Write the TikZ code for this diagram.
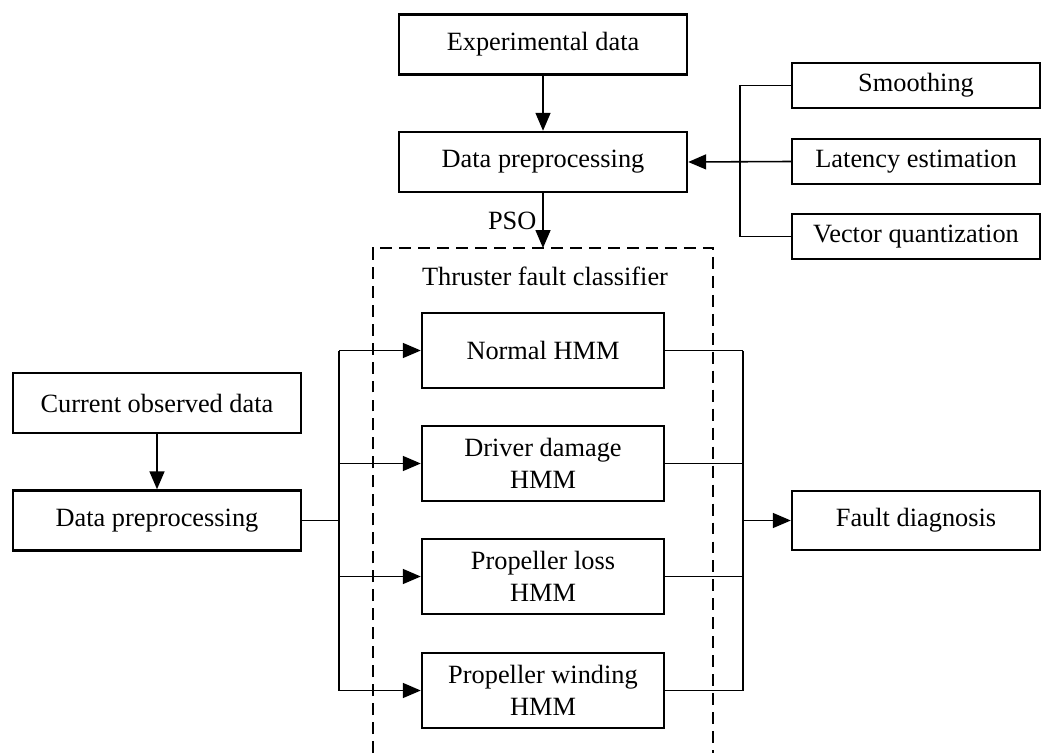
\documentclass[tikz,border=0pt]{standalone}
\usepackage{fontspec}
\setmainfont{Liberation Serif}
\usetikzlibrary{arrows.meta}

\begin{document}
\begin{tikzpicture}[x=0.02cm, y=-0.02cm,
    font=\fontsize{15}{18}\selectfont,
    box/.style = {draw, line width=1.4pt, align=center, inner sep=2pt},
    wide/.style = {box, minimum width=5.76cm, minimum height=1.2cm},
    side/.style = {box, minimum width=4.96cm, minimum height=0.9cm},
    hmm/.style = {box, minimum width=4.84cm, minimum height=1.5cm},
    link/.style = {line width=0.9pt},
    arr/.style = {link, -{Triangle[length=0.36cm, width=0.3cm]}}]
			\useasboundingbox (0,0) rectangle (1043,753);
			\node (exp) at (543,44.5) [wide] {Experimental data};
			\node (pre1) at (543,162) [wide] {Data preprocessing};
			\node (smooth) at (916,85.5) [side] {Smoothing};
			\node (lat) at (916,161.5) [side] {Latency estimation};
			\node (vec) at (916,236.5) [side] {Vector quantization};
			\node (cur) at (157,403) [wide] {Current observed data};
			\node (pre2) at (157,520.5) [wide] {Data preprocessing};
			\node (hmm1) at (543,350.5) [hmm] {Normal HMM};
			\node (hmm2) at (543,463.5) [hmm] {Driver damage\\HMM};
			\node (hmm3) at (543,576.5) [hmm] {Propeller loss\\HMM};
			\node (hmm4) at (543,690.5) [hmm] {Propeller winding\\HMM};
			\node (fault) at (916,520.5) [box, minimum width=4.96cm, minimum height=1.18cm] {Fault diagnosis};
			\node (cls) at (545,276) {Thruster fault classifier};
			\coordinate (clsTop) at (543,248);
			\coordinate (rbus) at (740,161.5);
			\coordinate (lbus) at (339,520.5);
			\coordinate (obus) at (743,520.5);
			% classifier frame
			\draw[dash pattern=on 6.8pt off 4pt, line width=0.7pt] (373,753) -- (373,248) -- (713,248) -- (713,753);
			\draw[arr] (exp) -- (pre1);
			\draw[arr] (pre1) -- node[left] {PSO} (clsTop);
			\draw[link] (smooth.west) -| (rbus) |- (vec.west);
			\draw[arr] (lat.west) -- (pre1.east);
			\draw[arr] (cur) -- (pre2);
			\draw[link] (pre2.east) -- (lbus);
			\draw[link] (lbus |- hmm1.west) -- (lbus |- hmm4.west);
			\draw[link] (obus |- hmm1.east) -- (obus |- hmm4.east);
			\foreach \m in {hmm1,hmm2,hmm3,hmm4}
			{
			\draw[arr] (lbus |- \m.west) -- (\m.west);
			\draw[link] (\m.east) -- (obus |- \m.east);
			}
			\draw[arr] (obus) -- (fault.west);
\end{tikzpicture}
\end{document}
